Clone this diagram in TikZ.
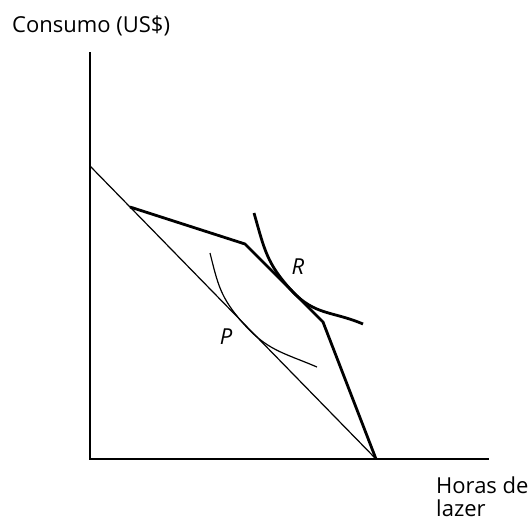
\documentclass[tikz,border=0pt]{standalone}
\usepackage{fontspec}
\setmainfont{Open Sans}
\usetikzlibrary{calc,positioning}

\begin{document}
\begin{tikzpicture}[
    x=1pt, y=-1pt,
    axisline/.style = {
        line width=1.4pt
    },
    budgetthin/.style = {
        line width=1.2pt
    },
    budgetthick/.style = {
        line width=2.8pt,
        line join=round
    },
    indiffthin/.style = {
        line width=1.2pt
    },
    indiffthick/.style = {
        line width=2.8pt
    },
    axislabel/.style = {
        font=\fontsize{22}{23}\selectfont,
        anchor=west,
        align=left,
        inner sep=0pt
    },
    pointlabel/.style = {
        font=\fontsize{22}{26}\selectfont\itshape,
        inner sep=0pt
    }
]
\useasboundingbox (0,0) rectangle (530,520);

% --- Eixos ---
\coordinate (origin) at (90,459);
\coordinate (ytop) at (90,52);
\coordinate (xend) at (489,459);
\draw[axisline] (ytop) -- (origin) -- (xend);

\node[axislabel] (ylab) at (12,26) {Consumo (US\$)};
\node[axislabel, anchor=base west] (xlab) at (436,516) {Horas de\\lazer};

% --- Restrições orçamentárias ---
\coordinate (budA) at (90,166);
\coordinate (budB) at (376,459);
\coordinate (kinkA) at (130,207);
\coordinate (kinkB) at (245,244);
\coordinate (kinkC) at (323,322);

\draw[budgetthin] (budA) -- (budB);
\draw[budgetthick] (kinkA) -- (kinkB) -- (kinkC) -- (budB);

% --- Curvas de indiferença ---
\coordinate (ptP) at (242,322);
\coordinate (ptR) at (292,291);

\draw[indiffthin] (210,253) to[out=-76,in=131,looseness=1.1] (ptP)
    to[out=-49,in=157,looseness=1.1] (317,367);
\draw[indiffthick] (254,213) to[out=-74,in=133,looseness=1.1] (ptR)
    to[out=-47,in=157,looseness=1.1] (363,324);

\node[pointlabel] (labP) at (226,337) {P};
\node[pointlabel] (labR) at (298,267) {R};

\end{tikzpicture}
\end{document}
